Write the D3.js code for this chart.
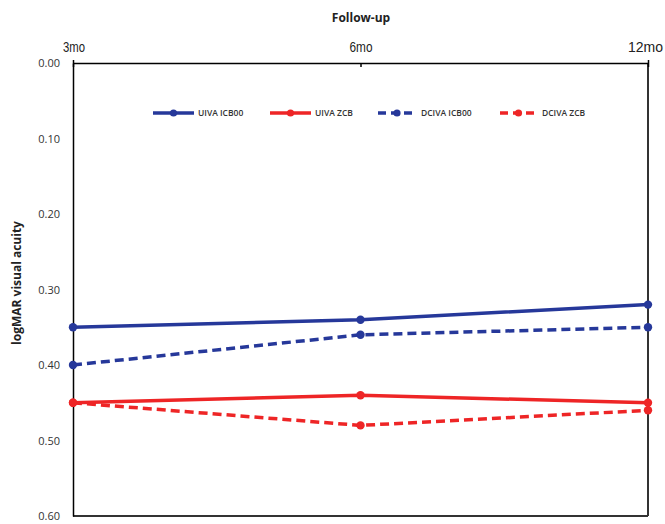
<!DOCTYPE html>
<html><head><meta charset="utf-8">
<script src="https://cdn.jsdelivr.net/npm/d3@7"></script>
<style>body{margin:0;background:#fff}</style>
</head><body>
<svg id="c" width="665" height="524"></svg>
<script>
const timepoints = ["3mo", "6mo", "12mo"];
const yTicks = [0, 0.1, 0.2, 0.3, 0.4, 0.5, 0.6];
const seriesNames = ["UIVA ICB00", "UIVA ZCB", "DCIVA ICB00", "DCIVA ZCB"];
const uivaICB00 = [0.35, 0.34, 0.32];
const uivaZCB = [0.45, 0.44, 0.45];
const dcivaICB00 = [0.40, 0.36, 0.35];
const dcivaZCB = [0.45, 0.48, 0.46];

const series = [
  {name: seriesNames[0], values: uivaICB00, color: "#26389a", dash: null},
  {name: seriesNames[1], values: uivaZCB, color: "#ee2526", dash: null},
  {name: seriesNames[2], values: dcivaICB00, color: "#26389a", dash: "9,5"},
  {name: seriesNames[3], values: dcivaZCB, color: "#ee2526", dash: "9,5"}
];

const svg = d3.select("#c");
const L = 73, R = 648, T = 63, B = 516;
const x = d3.scalePoint().domain(timepoints).range([L, R]);
const y = d3.scaleLinear().domain([0, 0.6]).range([T, B]);

// frame
svg.append("line").attr("x1", R).attr("x2", R).attr("y1", T).attr("y2", B).attr("stroke", "#333").attr("stroke-width", 2);
svg.append("line").attr("x1", L).attr("x2", R).attr("y1", B).attr("y2", B).attr("stroke", "#333").attr("stroke-width", 2);

// left axis
const ya = svg.append("g").attr("transform", `translate(${L},0)`)
  .call(d3.axisLeft(y).tickValues(yTicks).tickFormat(d3.format(".2f")).tickSize(0).tickPadding(13));
ya.select(".domain").attr("stroke", "#000").attr("stroke-width", 1.5);
ya.selectAll("text").attr("font-family", "Open Sans").attr("font-size", 11).attr("fill", "#333");

// top axis
const labW = {"3mo": 22, "6mo": 23, "12mo": 35};
const labDx = {"3mo": 0.5, "6mo": 0, "12mo": -3};
const xa = svg.append("g").attr("transform", `translate(0,${T})`)
  .call(d3.axisTop(x).tickSize(0).tickPadding(11));
xa.select(".domain").attr("stroke", "#000").attr("stroke-width", 1.5);
xa.selectAll("text").attr("font-family", "Liberation Sans").attr("font-weight", "normal")
  .attr("font-size", 14.5).attr("fill", "#222")
  .attr("textLength", d => labW[d]).attr("lengthAdjust", "spacingAndGlyphs")
  .attr("dx", d => labDx[d]);
xa.selectAll(".tick").append("line").attr("y1", d => d === "6mo" ? 0 : -3).attr("y2", 4).attr("stroke", "#000").attr("stroke-width", 1.5);

// titles
svg.append("text").attr("x", 361).attr("y", 22).attr("text-anchor", "middle")
  .attr("font-family", "Open Sans").attr("font-weight", "bold").attr("font-size", 12).attr("fill", "#222").text("Follow-up");
svg.append("text").attr("transform", "translate(21,283) rotate(-90)").attr("text-anchor", "middle")
  .attr("font-family", "Open Sans").attr("font-weight", "bold").attr("font-size", 12).attr("fill", "#222").text("logMAR visual acuity");

// lines
const line = d3.line().x((d, i) => x(timepoints[i])).y(d => y(d));
const order = [2, 3, 0, 1];
order.forEach(k => {
  const s = series[k];
  const g = svg.append("g");
  g.append("path").attr("d", line(s.values)).attr("fill", "none").attr("stroke", s.color)
    .attr("stroke-width", 3.5).attr("stroke-dasharray", s.dash);
  g.selectAll("circle").data(s.values).join("circle")
    .attr("cx", (d, i) => x(timepoints[i])).attr("cy", d => y(d)).attr("r", 4.2).attr("fill", s.color);
});

// legend
const legX = [153, 270, 378, 500];
const legW = [41, 41, 38, 37];
const ly = 113;
series.forEach((s, i) => {
  const g = svg.append("g");
  g.append("line").attr("x1", legX[i]).attr("x2", legX[i] + legW[i]).attr("y1", ly).attr("y2", ly)
    .attr("stroke", s.color).attr("stroke-width", 3.5).attr("stroke-dasharray", s.dash ? "8,5" : null);
  g.append("circle").attr("cx", legX[i] + legW[i] / 2).attr("cy", ly).attr("r", 3.6).attr("fill", s.color);
  g.append("text").attr("x", legX[i] + legW[i] + 4 + (i >= 2 ? 1 : 0)).attr("y", ly + 3)
    .attr("font-family", "Open Sans").attr("font-weight", 600).attr("font-size", 8.5).attr("fill", "#333").text(s.name);
});
</script>
</body></html>
